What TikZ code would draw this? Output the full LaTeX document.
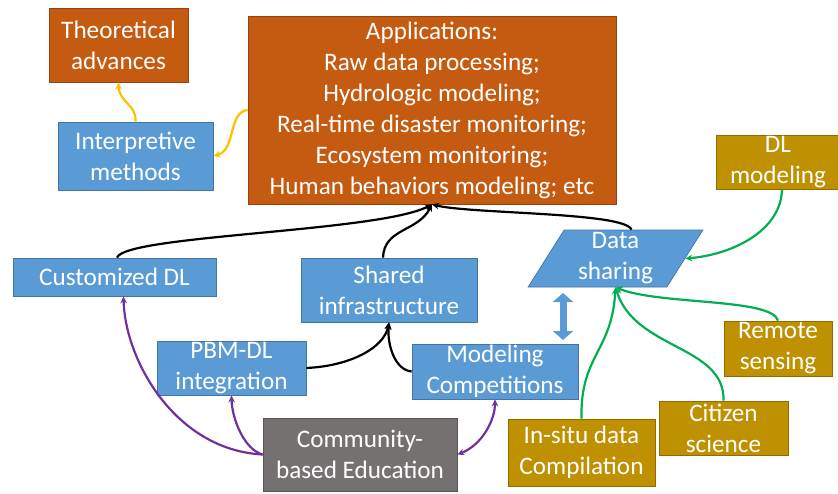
\documentclass[tikz,border=0pt]{standalone}
\usepackage{fontspec}
\setmainfont{Carlito}
\usetikzlibrary{arrows.meta,shapes.geometric}
\definecolor{orng}{HTML}{C55A11}
\definecolor{blu}{HTML}{5B9BD5}
\definecolor{gld}{HTML}{BF9000}
\definecolor{gry}{HTML}{767171}
\definecolor{grn}{HTML}{00B050}
\definecolor{prp}{HTML}{7030A0}
\definecolor{ylw}{HTML}{FFC000}
\begin{document}
\begin{tikzpicture}[x=1pt,y=-1pt,
  box/.style={rectangle, draw=#1!75!black, fill=#1, line width=0.7pt, text=white, align=center, inner sep=0pt, font=\fontsize{25.2}{31}\selectfont},
  conn/.style={draw=#1, line width=2.2pt, -{Stealth[length=7pt,width=6.5pt]}},
  dconn/.style={draw=#1, line width=2.2pt, {Stealth[length=7pt,width=6.5pt]}-{Stealth[length=7pt,width=6.5pt]}}
]
\useasboundingbox (0,0) rectangle (838,493);
% nodes
\node[box=orng, minimum width=139pt, minimum height=74pt] (th) at (118.5,45) {Theoretical\\advances};
\node[box=blu, minimum width=155pt, minimum height=68pt] (int) at (135.5,156) {Interpretive\\methods};
\node[box=orng, minimum width=368pt, minimum height=188pt] (app) at (432,110) {Applications:\\Raw data processing;\\Hydrologic modeling;\\Real-time disaster monitoring;\\Ecosystem monitoring;\\Human behaviors modeling; etc};
\node[box=gld, minimum width=124pt, minimum height=54pt] (dl) at (778,162) {DL\\modeling};
\node[box=blu, trapezium, trapezium left angle=63, trapezium right angle=117, trapezium stretches=true, minimum width=175pt, minimum height=57pt] (ds) at (615.5,258.5) {Data\\sharing};
\node[box=blu, minimum width=203pt, minimum height=38pt] (cdl) at (114.5,277) {Customized DL};
\node[box=blu, minimum width=176pt, minimum height=64pt] (sh) at (389,290) {Shared\\infrastructure};
\node[box=blu, minimum width=149pt, minimum height=54pt] (pbm) at (231.5,368) {PBM-DL\\integration};
\node[box=blu, minimum width=166pt, minimum height=55pt] (mc) at (495,371.5) {Modeling\\Competitions};
\node[box=gry, minimum width=194pt, minimum height=73pt] (ce) at (360,454.5) {Community-\\based Education};
\node[box=gld, minimum width=147pt, minimum height=67pt] (is) at (581.5,452.5) {In-situ data\\Compilation};
\node[box=gld, minimum width=129pt, minimum height=54pt] (cs) at (723.5,428) {Citizen\\science};
\node[box=gld, minimum width=108pt, minimum height=55pt] (rs) at (778,348.5) {Remote\\sensing};
\coordinate (da1) at (563,293);
\coordinate (da2) at (563,340);
% black connectors
\draw[conn=black] ([xshift=2.5pt]cdl.north) .. controls (125,235) and (380,232) .. (app.south);
\draw[conn=black] ([xshift=-6pt]sh.north) .. controls (384,228) and (418,232) .. (app.south);
\draw[conn=black] ([xshift=16pt]ds.north) .. controls (625,212) and (470,214) .. (app.south);
\draw[conn=black] (pbm.east) .. controls (350,366) and (384,348) .. (sh.south);
\draw[conn=black] (mc.west) .. controls (395,370) and (387,345) .. (sh.south);
% yellow
\draw[conn=ylw] (int.north) .. controls (137,105) and (119,102) .. (th.south);
\draw[conn=ylw] (app.west) .. controls (228,112) and (236,150) .. (int.east);
% green
\draw[conn=grn] ([xshift=4pt]dl.south) .. controls (781,232) and (730,255) .. (ds.right side);
\draw[conn=grn] (rs.north) .. controls (772,298) and (660,305) .. (ds.south);
\draw[conn=grn] (cs.north) .. controls (725,345) and (635,350) .. (ds.south);
\draw[conn=grn] (is.north) .. controls (580,355) and (612,352) .. (ds.south);
% purple
\draw[conn=prp] (ce.west) .. controls (175,450) and (125,360) .. ([xshift=9pt]cdl.south);
\draw[conn=prp] (ce.west) .. controls (245,450) and (232,420) .. (pbm.south);
\draw[dconn=prp] (ce.east) .. controls (482,445) and (495,420) .. (mc.south);
% double block arrow
\draw[draw=blu, line width=7pt, {Triangle[width=20pt,length=9pt]}-{Triangle[width=20pt,length=9pt]}] (da1) -- (da2);
\end{tikzpicture}
\end{document}
